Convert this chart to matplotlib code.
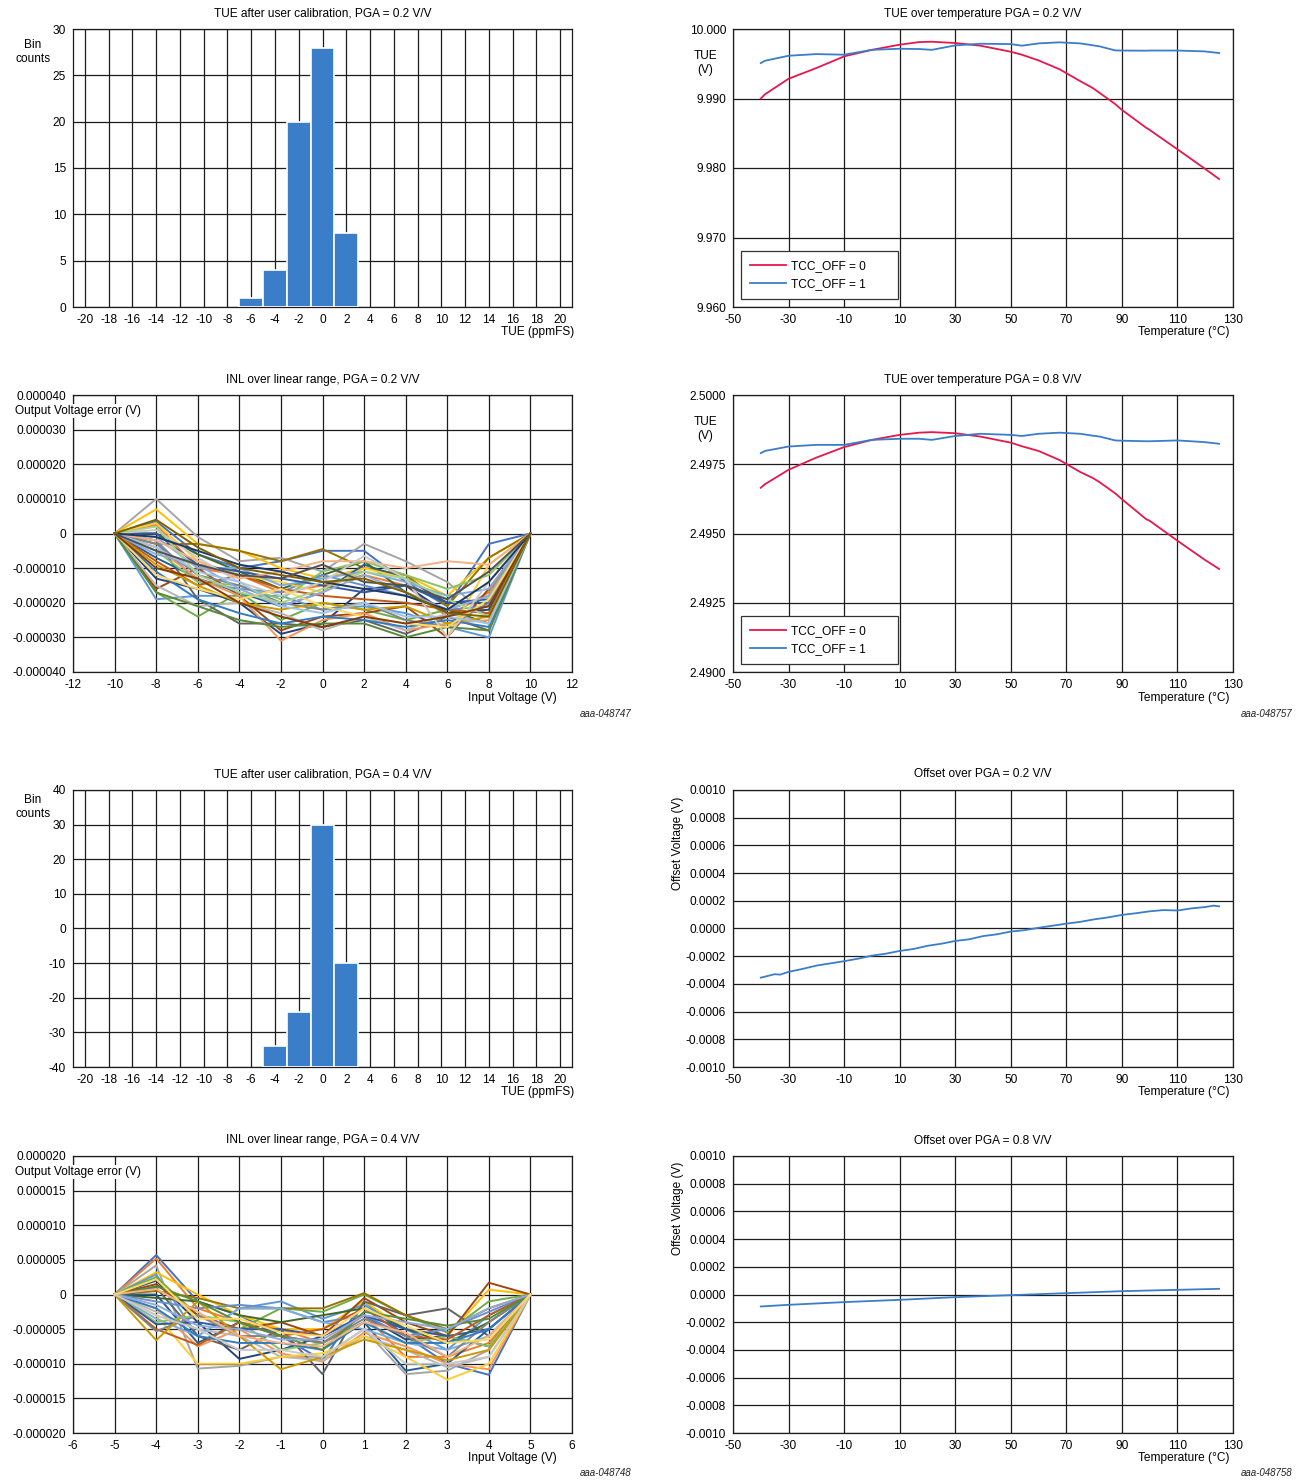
import numpy as np
import matplotlib
matplotlib.use("Agg")
import matplotlib.pyplot as plt
from matplotlib.ticker import FuncFormatter

plt.rcParams['font.family'] = ['Liberation Sans', 'DejaVu Sans']
plt.rcParams['axes.unicode_minus'] = False

# ---------------- data ----------------
# TUE histograms (bin centres in ppmFS)
hist02_bins = [-6, -4, -2, 0, 2]
hist02_counts = [1, 4, 20, 28, 8]
hist04_bins = [-4, -2, 0, 2]
hist04_tops = [-34, -24, 30, -10]   # axis runs from -40 in the source chart

# TUE over temperature
temp_tue = [-40, -38.5, -30, -20, -10, 0, 10, 17, 21.6, 30, 39, 50, 54, 60, 67.6, 75, 79.6, 82, 87.6, 90, 98.7, 100, 110, 119.7, 125]
tue02_off0 = [9.9900, 9.9906, 9.99284, 9.99438, 9.99606, 9.99700, 9.99774, 9.99812, 9.99817, 9.99798, 9.99760, 9.99673, 9.99630,
              9.99548, 9.99420, 9.99250, 9.99149, 9.99080, 9.98920, 9.98837, 9.98580, 9.98548, 9.98269, 9.97995, 9.97841]
tue02_off1 = [9.99510, 9.99543, 9.99615, 9.99639, 9.99630, 9.99700, 9.99716, 9.99712, 9.99700, 9.99764, 9.99788, 9.99783, 9.99760,
              9.99793, 9.99808, 9.99793, 9.99765, 9.99750, 9.99692, 9.99690, 9.99688, 9.99690, 9.99690, 9.99678, 9.99654]
tue08_off0 = [2.49665, 2.49678, 2.49730, 2.49774, 2.49812, 2.49838, 2.49856, 2.49864, 2.49866, 2.49862, 2.49850, 2.49828, 2.49815,
              2.49798, 2.49765, 2.49722, 2.49700, 2.49685, 2.49645, 2.49624, 2.49552, 2.49546, 2.49474, 2.49406, 2.49372]
tue08_off1 = [2.49790, 2.49798, 2.49814, 2.49820, 2.49820, 2.49838, 2.49842, 2.49842, 2.49838, 2.49852, 2.49860, 2.49856, 2.49852,
              2.49860, 2.49864, 2.49860, 2.49853, 2.49850, 2.49836, 2.49835, 2.49833, 2.49833, 2.49836, 2.49830, 2.49824]

# offset over temperature
temp_off02 = [-40, -37, -35, -33, -30, -25, -20, -15, -10, -5, 0, 5, 10, 15, 20, 25, 30, 35, 40, 45, 50, 55, 60,
              65, 70, 75, 80, 85, 90, 95, 100, 105, 110, 115, 120, 123, 125]
offset02 = [-0.000355, -0.000340, -0.000330, -0.000333, -0.000313, -0.000292, -0.000268, -0.000252, -0.000236, -0.000218,
            -0.000196, -0.000182, -0.000162, -0.000148, -0.000125, -0.000110, -0.000090, -0.000078, -0.000055, -0.000042,
            -0.000022, -0.000012, 0.000005, 0.000020, 0.000035, 0.000048, 0.000066, 0.000080, 0.000098, 0.000110,
            0.000124, 0.000133, 0.000130, 0.000145, 0.000155, 0.000165, 0.000160]
temp_off08 = [-40, -30, -10, 10, 30, 50, 70, 90, 110, 125]
offset08 = [-0.0000865, -0.0000745, -0.000055, -0.0000385, -0.0000192, -0.0000048, 0.0000096, 0.000024, 0.0000337, 0.000041]

# INL, PGA = 0.2 V/V (uV), inputs -10..10 V; end points are 0
inl02_x = [-10, -8, -6, -4, -2, 0, 2, 4, 6, 8, 10]
inl02_uv = [
    [3.5, -6, -10, -8, -5, -5, -14, -21, -3],
    [2.5, -10, -12, -17, -15, -12, -15, -24, -17],
    [10, -1, -8, -7, -11, -3, -8, -14, -24],
    [7, -3, -5, -10, -13, -10, -12, -18, -7],
    [-19, -18, -18, -18, -22, -21, -23, -27, -30],
    [-17, -24, -17, -25, -20, -22, -25, -22, -18],
    [-13, -16, -20, -29, -26, -16, -15, -23, -22],
    [-16, -10, -18, -28, -24, -23, -21, -30, -16],
    [-2, -19, -26, -26, -27, -25, -29, -24, -28],
    [-3, -3, -5, -8, -4.5, -10, -12, -21, -7],
    [-7, -13, -17, -21, -17, -9, -13, -20, -20],
    [0, -6, -11, -16, -12, -8, -17, -22, -26],
    [-2, -14, -16, -17, -12, -15, -18, -22, -21],
    [-4, -13, -18, -31, -25, -23, -28, -26, -25],
    [-15, -21, -20, -23, -28, -24, -28, -23, -26],
    [3, -8, -12, -14, -17, -10, -13, -30, -9],
    [-1, -10, -10, -15, -13, -11, -14, -18, -16],
    [-5, -14, -15, -19, -11, -8, -12, -16, -12],
    [0, -9, -11, -13, -15, -17, -15, -20, -19],
    [-8, -15, -12, -16, -18, -19, -20, -22, -23],
    [-3, -12, -15, -20, -22, -20, -25, -27, -20],
    [-9, -15, -20, -22, -20, -22, -21, -26, -24],
    [-11, -19, -23, -26, -24, -25, -27, -25, -27],
    [-17, -21, -25, -27, -26, -26, -30, -27, -28],
    [-6, -9, -16, -21, -17, -12, -17, -22, -18],
    [-2, -8, -13, -11, -8, -8, -10, -8, -9],
    [1, -7, -14, -18, -14, -6.5, -13, -30, -14],
    [-12, -16, -19, -16, -21, -24, -26, -27, -19],
    [-4, -11, -14, -21, -23, -20, -24, -24, -26],
    [2, -12, -17, -20, -16, -11, -13, -19, -24],
    [-1, -5, -9, -11, -14, -16, -18, -22, -14],
    [-10, -13, -20, -24, -27, -24, -26, -24, -21],
    [-5, -9, -12, -13, -9, -14, -15, -19, -11],
    [4, -4, -10, -12, -14, -13, -17, -23, -24],
]

# INL, PGA = 0.4 V/V (uV), inputs -5..5 V; end points are 0
inl04_x = [-5, -4, -3, -2, -1, 0, 1, 2, 3, 4, 5]
inl04_uv = [
    [5.7, -1, -3, -6, -9.5, -1, -6, -10, -11.6],
    [5.2, -2, -4, -5, -7, -3, -9, -9, -7],
    [4.2, -10.7, -10.3, -9, -9, -5, -11.5, -11, -8],
    [3.2, 0, -3, -5, -5, -1, -5, -6, 0.7],
    [2.9, -6, -2, -1, -3.5, -1.5, -5, -8, -3],
    [2.5, -3, -5, -2, -2.5, 0, -3, -5.5, -1],
    [2, -4, -9.3, -8, -6, -3, -6.5, -6, -7.5],
    [1.5, -3, -5, -4, -6, -0.5, -4, -6, 1.7],
    [1, -6, -8, -5, -11.5, -1, -3, -2, -6],
    [0.5, -0.5, -2, -2, -2, 0.2, -3, -5, -2],
    [0, -7, -4, -6, -7, -4, -11, -10, -5],
    [-0.5, -1, -3, -4, -3, -2, -5, -7, -4],
    [-1, -2, -1.5, -2, -4, -3, -6, -5, -2.5],
    [-2, -7.5, -5, -8.5, -9.7, -5.5, -7.5, -10, -10.8],
    [-2.5, -5, -6, -9, -9.5, -6, -8, -10.5, -9],
    [-3, -10, -10, -9, -8.5, -6, -9, -12.3, -10],
    [-3.5, -6, -2, -2, -4, -5, -7, -8, -6],
    [-4, -3, -4, -8, -7, -4, -7, -6, -7.5],
    [-4.3, -4, -5, -5, -6, -3, -5, -6, -5],
    [-5, -7.3, -4, -6, -5, -2, -6, -6.5, -3],
    [-5.3, -3, -6, -6, -7, -3.5, -6, -9, -4],
    [-6.6, -1, -6, -10.8, -9, -6.5, -8, -9.5, -8],
    [-2, -6, -7, -7, -8, -4, -7, -7, -5],
    [1.2, -1, -4, -6, -8, -2.5, -3.5, -4.5, -3.5],
    [-1.5, -4.5, -5, -6.5, -6.5, -3, -4, -5, -2],
    [0.8, -2.5, -6, -7, -7.5, -4, -5.5, -9, -6],
    [-3, -5, -8, -8, -9, -5, -10, -10, -9],
    [2.2, -3.5, -3.5, -5.5, -6, -2, -4.5, -7, -6.5],
]

palette = ['#4472C4', '#ED7D31', '#A5A5A5', '#FFC000', '#5B9BD5', '#70AD47',
           '#264478', '#9E480E', '#636363', '#997300', '#255E91', '#43682B',
           '#698ED0', '#F1975A', '#B7B7B7', '#FFCD33', '#7CAFDD', '#8CC168',
           '#335AA1', '#BE5B1A', '#848484', '#CC9A00', '#327DC2', '#5A8A39',
           '#8FAADC', '#F4B183', '#C9C9C9', '#FFD966', '#9DC3E6', '#A9D18E',
           '#203864', '#843C0C', '#525252', '#7F6000', '#1F4E79', '#385723']

BAR = '#3A7DC9'
RED = '#E5184C'
BLUE = '#3A7DC9'
FS = 8.6

fig = plt.figure(figsize=(13.06, 14.84), dpi=100)
W, H = 1306.0, 1484.0


def make_axes(left, top, right, bottom):
    ax = fig.add_axes([left / W, 1 - bottom / H, (right - left) / W, (bottom - top) / H])
    ax.grid(True, color='#1c1c1c', lw=0.9)
    ax.set_axisbelow(True)
    for s in ax.spines.values():
        s.set_color('#1c1c1c')
        s.set_linewidth(0.9)
    ax.tick_params(length=0, pad=5, labelsize=FS)
    return ax


def title(ax, text):
    ax.set_title(text, fontsize=FS, pad=9)


def temp_axis(ax):
    ax.set_xlim(-50, 130)
    ax.set_xticks(np.arange(-50, 131, 20))


def tcc_legend(ax):
    leg = ax.legend(loc='lower left', bbox_to_anchor=(0.016, 0.029, 0.314, 0), mode='expand',
                    borderaxespad=0, fontsize=FS, fancybox=False, edgecolor='#333333', framealpha=1,
                    handlelength=3.0, handletextpad=0.4, borderpad=0.75, labelspacing=0.5)
    leg.get_frame().set_linewidth(0.9)


def xlabel_right(x, y, text):
    fig.text(x / W, 1 - y / H, text, ha='right', va='center', fontsize=FS)


def tag(x, y, text):
    fig.text(x / W, 1 - y / H, text, ha='right', va='center', fontsize=7, style='italic', color='#222222')


LX = (73, 572)
RX = (733, 1233)
ROWS = [(29, 307), (395, 672), (790, 1067), (1156, 1433)]

# ---- panel 1: histogram PGA 0.2
ax = make_axes(LX[0], ROWS[0][0], LX[1], ROWS[0][1])
ax.bar(hist02_bins, hist02_counts, width=2, color=BAR, edgecolor='white', linewidth=1.2, zorder=3)
ax.set_xlim(-21, 21)
ax.set_xticks(np.arange(-20, 21, 2))
ax.set_ylim(0, 30)
ax.set_yticks(np.arange(0, 31, 5))
title(ax, 'TUE after user calibration, PGA = 0.2 V/V')
fig.text(33 / W, 1 - 52 / H, 'Bin\ncounts', ha='center', va='center', fontsize=FS, linespacing=1.25)
xlabel_right(574, 332, 'TUE (ppmFS)')

# ---- panel 2: TUE over temp PGA 0.2
ax = make_axes(RX[0], ROWS[0][0], RX[1], ROWS[0][1])
ax.plot(temp_tue, tue02_off0, color=RED, lw=1.3, label='TCC_OFF = 0')
ax.plot(temp_tue, tue02_off1, color=BLUE, lw=1.3, label='TCC_OFF = 1')
temp_axis(ax)
ax.set_ylim(9.96, 10.0)
ax.set_yticks(np.arange(9.96, 10.0001, 0.01))
ax.yaxis.set_major_formatter(FuncFormatter(lambda v, p: f'{v:.3f}'))
title(ax, 'TUE over temperature PGA = 0.2 V/V')
fig.text(705 / W, 1 - 63 / H, 'TUE\n(V)', ha='center', va='center', fontsize=FS, linespacing=1.25)
tcc_legend(ax)
xlabel_right(1229, 332, 'Temperature (°C)')

# ---- panel 3: INL PGA 0.2
ax = make_axes(LX[0], ROWS[1][0], LX[1], ROWS[1][1])
for i, row in enumerate(inl02_uv):
    ys = np.array([0] + row + [0]) * 1e-6
    ax.plot(inl02_x, ys, color=palette[i % len(palette)], lw=1.4)
ax.set_xlim(-12, 12)
ax.set_xticks(np.arange(-12, 13, 2))
ax.set_ylim(-40e-6, 40e-6)
ax.set_yticks(np.arange(-40e-6, 40.1e-6, 10e-6))
ax.yaxis.set_major_formatter(FuncFormatter(lambda v, p: '0' if abs(v) < 1e-12 else f'{v:.6f}'))
title(ax, 'INL over linear range, PGA = 0.2 V/V')
fig.text(15 / W, 1 - 411 / H, 'Output Voltage error (V)', ha='left', va='center', fontsize=FS,
         bbox=dict(facecolor='white', edgecolor='none', pad=1))
xlabel_right(557, 698, 'Input Voltage (V)')
tag(631, 714, 'aaa-048747')

# ---- panel 4: TUE over temp PGA 0.8
ax = make_axes(RX[0], ROWS[1][0], RX[1], ROWS[1][1])
ax.plot(temp_tue, tue08_off0, color=RED, lw=1.3, label='TCC_OFF = 0')
ax.plot(temp_tue, tue08_off1, color=BLUE, lw=1.3, label='TCC_OFF = 1')
temp_axis(ax)
ax.set_ylim(2.49, 2.5)
ax.set_yticks(np.arange(2.49, 2.50001, 0.0025))
ax.yaxis.set_major_formatter(FuncFormatter(lambda v, p: f'{v:.4f}'))
title(ax, 'TUE over temperature PGA = 0.8 V/V')
fig.text(705 / W, 1 - 429 / H, 'TUE\n(V)', ha='center', va='center', fontsize=FS, linespacing=1.25)
tcc_legend(ax)
xlabel_right(1229, 698, 'Temperature (°C)')
tag(1292, 714, 'aaa-048757')

# ---- panel 5: histogram PGA 0.4
ax = make_axes(LX[0], ROWS[2][0], LX[1], ROWS[2][1])
ax.bar(hist04_bins, np.array(hist04_tops) + 40, bottom=-40, width=2, color=BAR,
       edgecolor='white', linewidth=1.2, zorder=3)
ax.set_xlim(-21, 21)
ax.set_xticks(np.arange(-20, 21, 2))
ax.set_ylim(-40, 40)
ax.set_yticks(np.arange(-40, 41, 10))
title(ax, 'TUE after user calibration, PGA = 0.4 V/V')
fig.text(33 / W, 1 - 807 / H, 'Bin\ncounts', ha='center', va='center', fontsize=FS, linespacing=1.25)
xlabel_right(574, 1092, 'TUE (ppmFS)')

# ---- panel 6: offset PGA 0.2
ax = make_axes(RX[0], ROWS[2][0], RX[1], ROWS[2][1])
ax.plot(temp_off02, offset02, color=BLUE, lw=1.3)
temp_axis(ax)
ax.set_ylim(-0.001, 0.001)
ax.set_yticks(np.arange(-0.001, 0.00101, 0.0002))
ax.yaxis.set_major_formatter(FuncFormatter(lambda v, p: f'{v:.4f}'.replace('-0.0000', '0.0000')))
title(ax, 'Offset over PGA = 0.2 V/V')
fig.text(678 / W, 1 - 797 / H, 'Offset Voltage (V)', ha='center', va='top', rotation=90, fontsize=FS)
xlabel_right(1229, 1092, 'Temperature (°C)')

# ---- panel 7: INL PGA 0.4
ax = make_axes(LX[0], ROWS[3][0], LX[1], ROWS[3][1])
for i, row in enumerate(inl04_uv):
    ys = np.array([0] + row + [0]) * 1e-6
    ax.plot(inl04_x, ys, color=palette[i % len(palette)], lw=1.4)
ax.set_xlim(-6, 6)
ax.set_xticks(np.arange(-6, 7, 1))
ax.set_ylim(-20e-6, 20e-6)
ax.set_yticks(np.arange(-20e-6, 20.1e-6, 5e-6))
ax.yaxis.set_major_formatter(FuncFormatter(lambda v, p: '0' if abs(v) < 1e-12 else f'{v:.6f}'))
title(ax, 'INL over linear range, PGA = 0.4 V/V')
fig.text(15 / W, 1 - 1172 / H, 'Output Voltage error (V)', ha='left', va='center', fontsize=FS,
         bbox=dict(facecolor='white', edgecolor='none', pad=1))
xlabel_right(557, 1458, 'Input Voltage (V)')
tag(631, 1473, 'aaa-048748')

# ---- panel 8: offset PGA 0.8
ax = make_axes(RX[0], ROWS[3][0], RX[1], ROWS[3][1])
ax.plot(temp_off08, offset08, color=BLUE, lw=1.3)
temp_axis(ax)
ax.set_ylim(-0.001, 0.001)
ax.set_yticks(np.arange(-0.001, 0.00101, 0.0002))
ax.yaxis.set_major_formatter(FuncFormatter(lambda v, p: f'{v:.4f}'.replace('-0.0000', '0.0000')))
title(ax, 'Offset over PGA = 0.8 V/V')
fig.text(678 / W, 1 - 1162 / H, 'Offset Voltage (V)', ha='center', va='top', rotation=90, fontsize=FS)
xlabel_right(1229, 1458, 'Temperature (°C)')
tag(1292, 1473, 'aaa-048758')

fig.savefig('out.png', dpi=100, facecolor='white')
